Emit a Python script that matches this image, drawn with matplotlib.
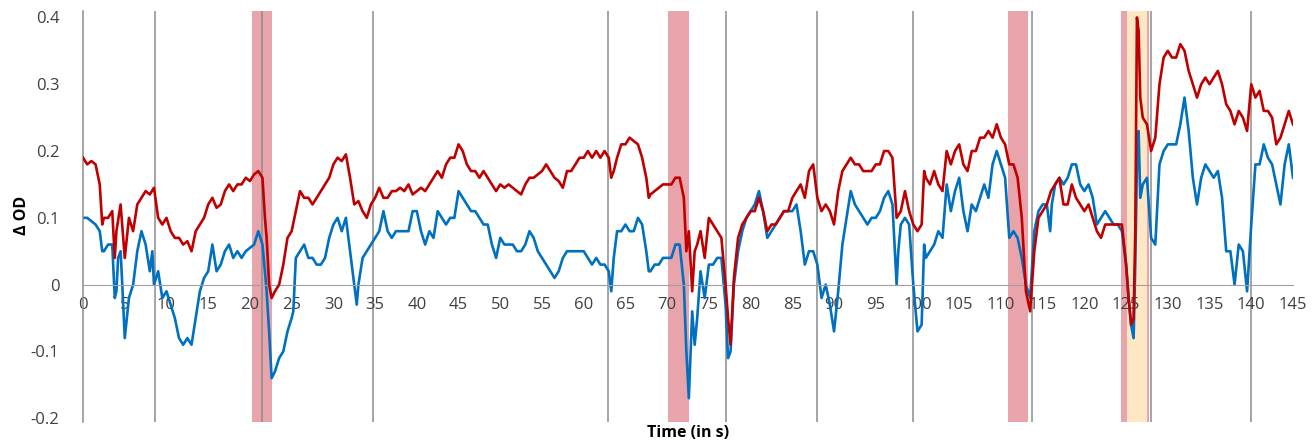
import numpy as np
import matplotlib.pyplot as plt

# red trace (time in s, delta OD)
t_red = [0, 0.5, 1, 1.5, 2, 2.3, 2.5, 3, 3.5, 3.8, 4, 4.5, 5, 5.5, 6, 6.5, 7, 7.5, 8, 8.5, 9, 9.5, 10, 10.5, 11, 11.5, 12, 12.5, 13, 13.5, 14, 14.5, 15, 15.5, 16, 16.5, 17, 17.5,
         18, 18.5, 19, 19.5, 20, 20.5, 21, 21.5, 21.8, 22, 22.3, 22.6, 23, 23.5, 24, 24.5, 25, 25.5, 26, 26.5, 27, 27.5, 28, 28.5, 29, 29.5, 30, 30.5, 31, 31.5, 32, 32.5, 33, 33.5, 34, 34.5, 35, 35.5, 36, 36.5, 37, 37.5, 38, 38.5, 39, 39.5, 40, 40.5, 41, 41.5, 42, 42.5, 43, 43.5, 44,
         44.5, 45, 45.5, 46, 46.5, 47, 47.5, 48, 48.5, 49, 49.5, 50, 50.5, 51, 51.5, 52, 52.5, 53, 53.5, 54, 54.5, 55, 55.5, 56, 56.5, 57, 57.5, 58, 58.5, 59, 59.5, 60, 60.5, 61, 61.5, 62, 62.5, 63, 63.3, 63.6, 64, 64.5, 65, 65.5, 66, 66.5, 67, 67.5, 67.8, 68, 68.5, 69, 69.5, 70,
         70.5, 71, 71.5, 72, 72.3, 72.6, 73, 73.3, 73.6, 74, 74.5, 75, 75.5, 76, 76.5, 77, 77.3, 77.6, 78, 78.5, 79, 79.5, 80, 80.5, 81, 81.5, 82, 82.5, 83, 83.5, 84, 84.5, 85, 85.5, 86, 86.5, 87, 87.5, 88, 88.5, 89, 89.5, 90, 90.5, 91, 91.5, 92, 92.5, 93, 93.5, 94, 94.5, 95, 95.5, 96, 96.5,
         97, 97.5, 98, 98.5, 99, 99.5, 100, 100.5, 100.8, 101, 101.5, 102, 102.5, 103, 103.5, 104, 104.5, 105, 105.5, 106, 106.5, 107, 107.5, 108, 108.5, 109, 109.5, 110, 110.5, 111, 111.5, 112, 112.5, 113, 113.5, 114, 114.5, 115, 115.5, 116, 116.5, 117, 117.5, 118, 118.5, 119, 119.5, 120, 120.5, 121, 121.5, 122, 122.5,
         123, 123.5, 124, 124.5, 125, 125.3, 125.6, 125.9, 126.1, 126.3, 126.5, 126.7, 127, 127.5, 128, 128.5, 129, 129.5, 130, 130.5, 131, 131.5, 132, 132.5, 133, 133.5, 134, 134.5, 135, 135.5, 136, 136.5, 137, 137.5, 138, 138.5, 139, 139.5, 140, 140.5, 141, 141.5, 142, 142.5, 143, 143.5, 144, 144.5, 145]
red = [.19, .18, .185, .18, .15, .09, .10, .10, .11, .04, .08, .12, .04, .10, .08, .12, .13, .14, .135, .145, .10, .09, .10, .08, .07, .07, .06, .065, .05, .08, .09, .10, .12, .13, .115, .12, .14, .15,
       .14, .15, .15, .16, .155, .165, .17, .16, .10, .07, .0, -.02, -.01, .0, .03, .07, .08, .11, .14, .13, .13, .12, .13, .14, .15, .16, .18, .19, .185, .195, .16, .12, .125, .11, .10, .12, .13, .145, .13, .13, .14, .14, .145, .14, .15, .135, .14, .145, .14, .15, .16, .17, .16, .18, .19,
       .19, .21, .20, .18, .17, .17, .16, .17, .16, .15, .14, .15, .145, .15, .145, .14, .135, .15, .16, .16, .165, .17, .18, .17, .16, .155, .145, .17, .17, .18, .19, .19, .20, .19, .20, .19, .20, .19, .16, .17, .19, .21, .21, .22, .215, .21, .19, .16, .13, .135, .14, .145, .15, .15,
       .15, .16, .16, .13, .05, .08, -.01, .05, .06, .08, .04, .10, .09, .08, .07, .0, -.05, -.09, .01, .07, .09, .10, .11, .11, .13, .11, .08, .09, .09, .10, .11, .11, .13, .14, .15, .13, .17, .18, .13, .11, .12, .11, .09, .14, .17, .18, .19, .18, .18, .17, .17, .17, .18, .18, .20, .20,
       .19, .10, .11, .14, .11, .09, .08, .09, .17, .16, .15, .17, .15, .14, .20, .18, .20, .21, .18, .17, .20, .20, .22, .22, .23, .22, .24, .22, .21, .18, .18, .16, .10, -.01, -.04, .05, .10, .11, .12, .14, .15, .16, .12, .12, .15, .13, .12, .11, .12, .10, .08, .07, .09,
       .09, .09, .09, .09, .03, -.02, -.06, -.05, .08, .40, .38, .28, .25, .24, .20, .22, .30, .34, .35, .34, .34, .36, .35, .32, .30, .28, .30, .31, .30, .31, .32, .30, .27, .26, .24, .26, .25, .23, .30, .28, .29, .26, .26, .25, .21, .22, .24, .26, .24]

# blue trace
t_blue = [0, 0.5, 1, 1.5, 2, 2.3, 2.5, 3, 3.5, 3.8, 4, 4.2, 4.5, 4.7, 5, 5.5, 6, 6.5, 7, 7.5, 8, 8.3, 8.5, 9, 9.5, 10, 10.5, 11, 11.5, 12, 12.5, 13, 13.5, 14, 14.5, 15, 15.5, 16, 16.5, 17, 17.5,
          18, 18.5, 19, 19.5, 20, 20.5, 21, 21.5, 21.8, 22, 22.3, 22.6, 23, 23.5, 24, 24.5, 25, 25.2, 25.5, 26, 26.5, 27, 27.5, 28, 28.5, 29, 29.5, 30, 30.5, 31, 31.5, 32, 32.5, 32.8, 33, 33.5, 34, 34.5, 35, 35.5, 36, 36.5, 37, 37.5, 38, 38.5, 39, 39.5, 40, 40.5, 41, 41.5, 42, 42.5, 43, 43.5, 44,
          44.5, 45, 45.5, 46, 46.5, 47, 47.5, 48, 48.5, 49, 49.5, 50, 50.5, 51, 51.5, 52, 52.5, 53, 53.5, 54, 54.5, 55, 55.5, 56, 56.5, 57, 57.5, 58, 58.5, 59, 59.5, 60, 60.5, 61, 61.5, 62, 62.5, 63, 63.3, 63.6, 64, 64.5, 65, 65.5, 66, 66.5, 67, 67.5, 67.8, 68, 68.5, 69, 69.5, 70,
          70.5, 71, 71.5, 72, 72.3, 72.6, 73, 73.3, 73.6, 74, 74.5, 75, 75.5, 76, 76.5, 77, 77.3, 77.6, 78, 78.5, 79, 79.5, 80, 80.5, 81, 81.5, 82, 82.5, 83, 83.5, 84, 84.5, 85, 85.5, 86, 86.5, 87, 87.5, 88, 88.5, 89, 89.5, 90, 90.5, 91, 91.5, 92, 92.5, 93, 93.5, 94, 94.5, 95, 95.5, 96, 96.5,
          97, 97.5, 97.7, 98, 98.5, 99, 99.5, 100, 100.5, 100.8, 101, 101.5, 102, 102.5, 103, 103.5, 104, 104.5, 105, 105.5, 106, 106.5, 107, 107.5, 108, 108.5, 109, 109.5, 110, 110.5, 111, 111.5, 112, 112.5, 113, 113.5, 114, 114.5, 115, 115.5, 115.9, 116.1, 116.5, 117, 117.5, 118, 118.5, 119, 119.5, 120, 120.5, 121, 121.5, 122, 122.5,
          123, 123.5, 124, 124.5, 125, 125.3, 125.6, 125.9, 126.1, 126.3, 126.5, 126.7, 127, 127.5, 128, 128.5, 129, 129.5, 130, 130.5, 131, 131.5, 132, 132.5, 133, 133.5, 134, 134.5, 135, 135.5, 136, 136.5, 137, 137.5, 138, 138.5, 139, 139.5, 140, 140.5, 141, 141.5, 142, 142.5, 143, 143.5, 144, 144.5, 145]
blue = [.10, .10, .095, .09, .08, .05, .05, .06, .06, -.02, -.01, .04, .05, .0, -.08, -.02, .0, .05, .08, .06, .02, .05, .0, .02, -.02, -.01, -.03, -.05, -.08, -.09, -.08, -.09, -.05, -.01, .01, .02, .06, .02, .03, .05, .06,
        .04, .05, .04, .05, .055, .06, .08, .06, .02, -.01, -.07, -.14, -.13, -.11, -.10, -.07, -.05, -.04, .04, .05, .06, .04, .04, .03, .03, .04, .07, .09, .10, .08, .10, .05, .0, -.03, .0, .04, .05, .06, .07, .08, .11, .08, .07, .08, .08, .08, .08, .11, .11, .08, .06, .08, .07, .11, .10, .09, .10,
        .10, .14, .13, .12, .11, .11, .10, .09, .09, .06, .04, .07, .06, .06, .06, .05, .05, .06, .08, .07, .05, .04, .03, .02, .01, .02, .04, .05, .05, .05, .05, .05, .04, .03, .04, .03, .03, .02, -.01, .04, .08, .08, .09, .08, .08, .10, .09, .05, .02, .02, .03, .03, .04, .04,
        .04, .06, .06, .0, -.10, -.17, -.04, -.09, -.05, .02, -.02, .03, .03, .04, .04, -.03, -.11, -.10, .0, .05, .08, .10, .11, .12, .14, .11, .07, .08, .09, .10, .11, .11, .11, .12, .08, .03, .05, .05, .03, -.02, .0, -.03, -.07, -.01, .06, .10, .14, .12, .11, .10, .09, .10, .10, .11, .13, .14,
        .12, .0, .05, .09, .10, .09, .0, -.07, -.06, .06, .04, .05, .06, .08, .07, .15, .11, .14, .16, .11, .08, .12, .11, .13, .15, .13, .18, .20, .18, .16, .07, .08, .07, .04, .0, -.02, .08, .11, .12, .12, .08, .12, .15, .16, .15, .16, .18, .18, .15, .14, .15, .13, .09, .10, .11,
        .10, .09, .09, .08, .03, -.02, -.06, -.08, .03, .18, .23, .13, .15, .16, .07, .06, .18, .20, .21, .21, .21, .24, .28, .23, .16, .12, .16, .18, .17, .16, .17, .13, .05, .05, .0, .06, .05, -.01, .09, .18, .18, .21, .19, .18, .15, .12, .18, .21, .16]

# marker lines and shaded intervals
event_t = [8.6, 21.5, 34.7, 62.9, 77.1, 87.9, 99.5, 113.7, 128.0, 140.0]
red_bands = [(20.3, 22.7), (70.1, 72.6), (110.8, 113.3), (124.4, 125.1), (127.5, 127.8)]
yellow_bands = [(125.1, 127.5)]

fig = plt.figure(figsize=(13.12, 4.48), dpi=100)
ax = fig.add_axes([0.0633, 0.059, 0.9222, 0.917])

for a, b in red_bands:
	ax.axvspan(a, b, color='#e9a3aa', lw=0, zorder=0)
for a, b in yellow_bands:
	ax.axvspan(a, b, color='#fde7c4', lw=0, zorder=0)
for x in event_t:
	ax.axvline(x, color='#8c8c8c', lw=1.1, zorder=1)

ax.plot(t_red, red, color='#c00000', lw=1.9, zorder=3)
ax.plot(t_blue, blue, color='#0070c0', lw=1.9, zorder=2)

ax.set_xlim(0, 145)
ax.set_ylim(-0.205, 0.41)
ax.set_xticks(np.arange(0, 146, 5))
ax.set_yticks([-0.2, -0.1, 0, 0.1, 0.2, 0.3, 0.4])
ax.set_yticklabels(['-0.2', '-0.1', '0', '0.1', '0.2', '0.3', '0.4'])

ax.spines['top'].set_visible(False)
ax.spines['right'].set_visible(False)
ax.spines['bottom'].set_position(('data', 0))
ax.spines['bottom'].set_color('#a0a0a0')
ax.spines['left'].set_color('#8c8c8c')
ax.spines['left'].set_linewidth(1.1)
ax.tick_params(axis='both', length=0, labelsize=12, labelcolor='#404040')
ax.tick_params(axis='x', pad=9)
ax.tick_params(axis='y', pad=17)
for lab in ax.get_xticklabels() + ax.get_yticklabels():
	lab.set_family('Open Sans')

fig.text(22/1312, 1 - 215/448, 'Δ OD', rotation=90, ha='center', va='center',
	fontsize=11.5, fontweight='bold', family='Open Sans')
fig.text(688/1312, 1 - 433/448, 'Time (in s)', ha='center', va='center',
	fontsize=11.5, fontweight='bold', family='Open Sans')

plt.savefig('out.png', dpi=100)
